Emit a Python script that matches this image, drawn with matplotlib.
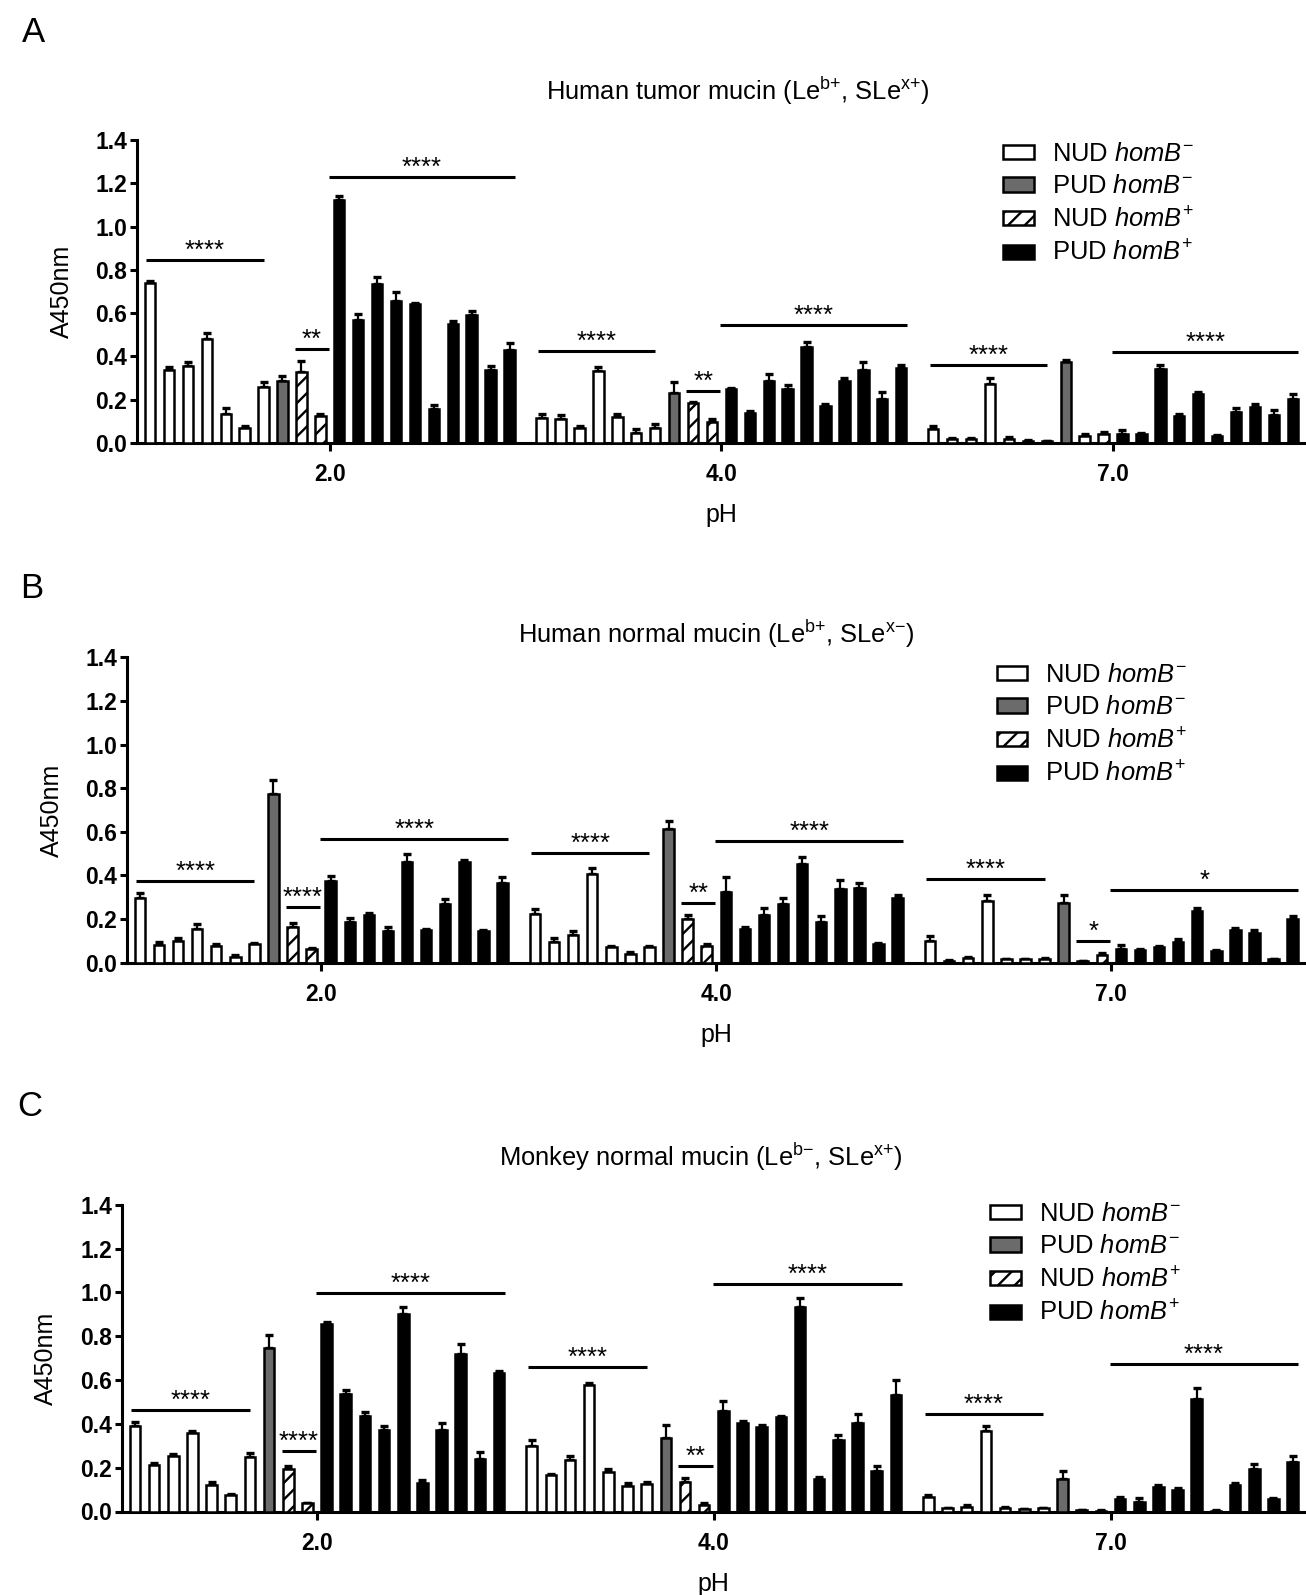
import numpy as np
import matplotlib
matplotlib.use('Agg')
import matplotlib.pyplot as plt
from matplotlib.patches import Patch

plt.rcParams['font.family'] = ['Liberation Sans', 'DejaVu Sans']
plt.rcParams['mathtext.fontset'] = 'custom'
plt.rcParams['mathtext.rm'] = 'Liberation Sans'
plt.rcParams['mathtext.it'] = 'Liberation Sans:italic'
plt.rcParams['mathtext.bf'] = 'Liberation Sans:bold'
plt.rcParams['hatch.linewidth'] = 1.7

# ---------------- data ----------------
PH_LABELS = ['2.0', '4.0', '7.0']
LEGEND_LABELS = [r'NUD $\mathit{homB}^{-}$', r'PUD $\mathit{homB}^{-}$',
                 r'NUD $\mathit{homB}^{+}$', r'PUD $\mathit{homB}^{+}$']
PANEL_LETTERS = ['A', 'B', 'C']
TITLES = [r'Human tumor mucin (Le$^{\mathrm{b}{+}}$, SLe$^{\mathrm{x}{+}}$)',
          r'Human normal mucin (Le$^{\mathrm{b}{+}}$, SLe$^{\mathrm{x}{-}}$)',
          r'Monkey normal mucin (Le$^{\mathrm{b}{-}}$, SLe$^{\mathrm{x}{+}}$)']

# Panel A: human tumor mucin (one inner list per pH)
A_NUD_NEG = [[0.740, 0.339, 0.358, 0.481, 0.136, 0.071, 0.259],
             [0.117, 0.113, 0.071, 0.331, 0.120, 0.048, 0.071],
             [0.065, 0.017, 0.017, 0.274, 0.020, 0.009, 0.008]]
A_NUD_NEG_ERR = [[0.009, 0.013, 0.018, 0.025, 0.024, 0.009, 0.025],
                 [0.016, 0.017, 0.008, 0.019, 0.012, 0.015, 0.018],
                 [0.012, 0.004, 0.004, 0.028, 0.008, 0.003, 0.003]]
A_PUD_NEG = [[0.288], [0.233], [0.373]]
A_PUD_NEG_ERR = [[0.020], [0.049], [0.012]]
A_NUD_POS = [[0.328, 0.123], [0.183, 0.096], [0.034, 0.040]]
A_NUD_POS_ERR = [[0.051, 0.009], [0.006, 0.017], [0.009, 0.012]]
A_PUD_POS = [[1.122, 0.567, 0.735, 0.655, 0.640, 0.157, 0.549, 0.591, 0.336, 0.432],
             [0.250, 0.139, 0.287, 0.250, 0.444, 0.170, 0.287, 0.339, 0.204, 0.347],
             [0.043, 0.040, 0.344, 0.125, 0.225, 0.034, 0.142, 0.167, 0.130, 0.204]]
A_PUD_POS_ERR = [[0.019, 0.028, 0.030, 0.045, 0.005, 0.017, 0.014, 0.020, 0.020, 0.032],
                 [0.006, 0.008, 0.031, 0.020, 0.022, 0.011, 0.015, 0.033, 0.032, 0.015],
                 [0.016, 0.005, 0.015, 0.008, 0.011, 0.003, 0.018, 0.012, 0.024, 0.021]]

# Panel B: human normal mucin
B_NUD_NEG = [[0.295, 0.081, 0.100, 0.156, 0.076, 0.028, 0.086],
             [0.223, 0.095, 0.128, 0.406, 0.072, 0.038, 0.072],
             [0.099, 0.009, 0.023, 0.283, 0.015, 0.015, 0.018]]
B_NUD_NEG_ERR = [[0.023, 0.015, 0.012, 0.020, 0.008, 0.008, 0.006],
                 [0.021, 0.020, 0.017, 0.029, 0.005, 0.012, 0.006],
                 [0.023, 0.003, 0.004, 0.027, 0.004, 0.004, 0.004]]
B_PUD_NEG = [[0.773], [0.613], [0.272]]
B_PUD_NEG_ERR = [[0.064], [0.038], [0.040]]
B_NUD_POS = [[0.165, 0.063], [0.199, 0.076], [0.006, 0.034]]
B_NUD_POS_ERR = [[0.015, 0.006], [0.021, 0.012], [0.002, 0.009]]
B_PUD_POS = [[0.374, 0.186, 0.217, 0.144, 0.460, 0.148, 0.267, 0.460, 0.145, 0.367],
             [0.324, 0.156, 0.217, 0.267, 0.454, 0.186, 0.336, 0.342, 0.084, 0.298],
             [0.064, 0.057, 0.070, 0.095, 0.235, 0.052, 0.151, 0.134, 0.015, 0.199]]
B_PUD_POS_ERR = [[0.023, 0.020, 0.009, 0.021, 0.040, 0.006, 0.023, 0.011, 0.006, 0.024],
                 [0.070, 0.009, 0.032, 0.031, 0.032, 0.029, 0.043, 0.024, 0.008, 0.014],
                 [0.017, 0.005, 0.006, 0.015, 0.015, 0.005, 0.006, 0.015, 0.002, 0.017]]

# Panel C: monkey normal mucin
C_NUD_NEG = [[0.390, 0.211, 0.253, 0.360, 0.122, 0.075, 0.247],
             [0.298, 0.167, 0.237, 0.576, 0.180, 0.115, 0.125],
             [0.065, 0.015, 0.019, 0.369, 0.014, 0.010, 0.014]]
C_NUD_NEG_ERR = [[0.020, 0.009, 0.008, 0.009, 0.011, 0.003, 0.021],
                 [0.028, 0.005, 0.014, 0.012, 0.015, 0.017, 0.011],
                 [0.011, 0.003, 0.011, 0.021, 0.006, 0.002, 0.003]]
C_PUD_NEG = [[0.748], [0.335], [0.147]]
C_PUD_NEG_ERR = [[0.057], [0.058], [0.038]]
C_NUD_POS = [[0.192, 0.037], [0.133, 0.030], [0.007, 0.004]]
C_NUD_POS_ERR = [[0.014, 0.003], [0.020, 0.008], [0.002, 0.002]]
C_PUD_POS = [[0.854, 0.536, 0.437, 0.370, 0.900, 0.130, 0.370, 0.717, 0.241, 0.632],
             [0.460, 0.402, 0.387, 0.430, 0.935, 0.150, 0.325, 0.402, 0.185, 0.533],
             [0.056, 0.045, 0.113, 0.098, 0.515, 0.004, 0.120, 0.194, 0.055, 0.226]]
C_PUD_POS_ERR = [[0.012, 0.018, 0.018, 0.018, 0.035, 0.014, 0.032, 0.047, 0.032, 0.011],
                 [0.046, 0.012, 0.009, 0.008, 0.039, 0.009, 0.023, 0.041, 0.022, 0.067],
                 [0.008, 0.015, 0.006, 0.008, 0.047, 0.002, 0.009, 0.024, 0.008, 0.029]]

# significance brackets: (pH group, strain set, level, label)
A_SIG = [(0, 'nudneg', 0.845, '****'), (0, 'nudpos', 0.436, '**'), (0, 'pudpos', 1.227, '****'),
         (1, 'nudneg', 0.426, '****'), (1, 'nudpos', 0.239, '**'), (1, 'pudpos', 0.546, '****'),
         (2, 'nudneg', 0.362, '****'), (2, 'pudpos', 0.421, '****')]
B_SIG = [(0, 'nudneg', 0.376, '****'), (0, 'nudpos', 0.254, '****'), (0, 'pudpos', 0.568, '****'),
         (1, 'nudneg', 0.501, '****'), (1, 'nudpos', 0.275, '**'), (1, 'pudpos', 0.558, '****'),
         (2, 'nudneg', 0.384, '****'), (2, 'nudpos', 0.100, '*'), (2, 'pudpos', 0.333, '*')]
C_SIG = [(0, 'nudneg', 0.462, '****'), (0, 'nudpos', 0.276, '****'), (0, 'pudpos', 0.998, '****'),
         (1, 'nudneg', 0.658, '****'), (1, 'nudpos', 0.206, '**'), (1, 'pudpos', 1.038, '****'),
         (2, 'nudneg', 0.446, '****'), (2, 'pudpos', 0.672, '****')]

# ---------------- layout / style ----------------
W, H = 1306, 1595
fig = plt.figure(figsize=(W / 100, H / 100), dpi=100)

PITCH = 20.7
BAR_W = 0.55
GRAY = '#6b6b6b'
STYLES = [dict(facecolor='white', hatch=None),
          dict(facecolor=GRAY, hatch=None),
          dict(facecolor='white', hatch='//'),
          dict(facecolor='black', hatch=None)]
SPANS = {'nudneg': (-0.2, 6.0), 'nudpos': (7.65, 9.45), 'pudpos': (9.45, 19.3)}

# pixel layout per panel: left, top(1.4), bottom(0.0)
AX_PX = [(137, 140, 443), (126.7, 657.3, 962.7), (121.7, 1204.7, 1511.5)]
LETTER_PX = [(34, 32), (32, 589), (30, 1106)]
TITLE_PX = [(738, 100), (716, 643), (701, 1166)]
LEG_PX = [(1003, 204), (996.7, 725), (990, 1264)]
YLAB_PX = [62, 51.5, 45.5]

panels = [
    ([A_NUD_NEG, A_PUD_NEG, A_NUD_POS, A_PUD_POS],
     [A_NUD_NEG_ERR, A_PUD_NEG_ERR, A_NUD_POS_ERR, A_PUD_POS_ERR], A_SIG),
    ([B_NUD_NEG, B_PUD_NEG, B_NUD_POS, B_PUD_POS],
     [B_NUD_NEG_ERR, B_PUD_NEG_ERR, B_NUD_POS_ERR, B_PUD_POS_ERR], B_SIG),
    ([C_NUD_NEG, C_PUD_NEG, C_NUD_POS, C_PUD_POS],
     [C_NUD_NEG_ERR, C_PUD_NEG_ERR, C_NUD_POS_ERR, C_PUD_POS_ERR], C_SIG),
]

LW_AX = 2.2
for p, (series, errs, sigs) in enumerate(panels):
    left, top, bottom = AX_PX[p]
    ax = fig.add_axes([left / W, 1 - bottom / H, (W - left) / W, (bottom - top) / H])
    for g in range(3):
        offset = g * PITCH
        for c in range(4):
            start = sum(len(series[k][g]) for k in range(c))
            vals = np.array(series[c][g])
            err = np.array(errs[c][g])
            x = offset + start + np.arange(len(vals))
            ax.bar(x, vals, width=BAR_W, edgecolor='black', linewidth=1.8,
                   zorder=3, **STYLES[c])
            ax.errorbar(x, vals, yerr=[np.zeros_like(err), err], fmt='none',
                        ecolor='black', elinewidth=1.6, capsize=3, capthick=2.4,
                        zorder=2)
    for g, kind, lev, lab in sigs:
        x0, x1 = SPANS[kind]
        ax.plot([g * PITCH + x0, g * PITCH + x1], [lev, lev], color='black',
                lw=2.2, solid_capstyle='butt', zorder=4)
        ax.annotate(lab, xy=(g * PITCH + (x0 + x1) / 2, lev), xytext=(0, 1.5),
                    textcoords='offset points', ha='center', va='baseline',
                    fontsize=18.5)
    ax.set_xlim(-0.69, 2 * PITCH + 19 + 0.7)
    ax.set_ylim(0, 1.4)
    ax.set_yticks(np.arange(0, 1.41, 0.2))
    ax.set_yticklabels([f'{v:.1f}' for v in np.arange(0, 1.41, 0.2)],
                       fontsize=16.5, fontweight='bold')
    ax.set_xticks([g * PITCH + 9.5 for g in range(3)])
    ax.set_xticklabels(PH_LABELS, fontsize=16.5, fontweight='bold')
    for s in ['top', 'right']:
        ax.spines[s].set_visible(False)
    for s in ['left', 'bottom']:
        ax.spines[s].set_linewidth(LW_AX)
    ax.tick_params(axis='y', direction='out', length=5, width=LW_AX, pad=2)
    ax.tick_params(axis='x', direction='out', length=5.5, width=LW_AX, pad=9)
    ax.set_ylabel('A450nm', fontsize=18)
    ax.yaxis.set_label_coords((YLAB_PX[p] + 12 - left) / (W - left), 0.5)
    ax.set_xlabel('pH', fontsize=18)
    ax.xaxis.set_label_coords(0.5, -(60 / (bottom - top)))

    handles = [Patch(edgecolor='black', linewidth=1.8, **STYLES[c]) for c in range(4)]
    lx, ly = LEG_PX[p]
    ax.legend(handles, LEGEND_LABELS, loc='center left',
              bbox_to_anchor=(lx / W, 1 - ly / H), bbox_transform=fig.transFigure,
              frameon=False, fontsize=18.4, borderpad=0, borderaxespad=0,
              handlelength=1.2, handleheight=0.48, handletextpad=0.7,
              labelspacing=0.33)

    fig.text(LETTER_PX[p][0] / W, 1 - LETTER_PX[p][1] / H, PANEL_LETTERS[p],
             fontsize=25, ha='center', va='center')
    fig.text(TITLE_PX[p][0] / W, 1 - TITLE_PX[p][1] / H, TITLES[p],
             fontsize=18.4, ha='center', va='baseline')

fig.savefig('out.png', dpi=100)
